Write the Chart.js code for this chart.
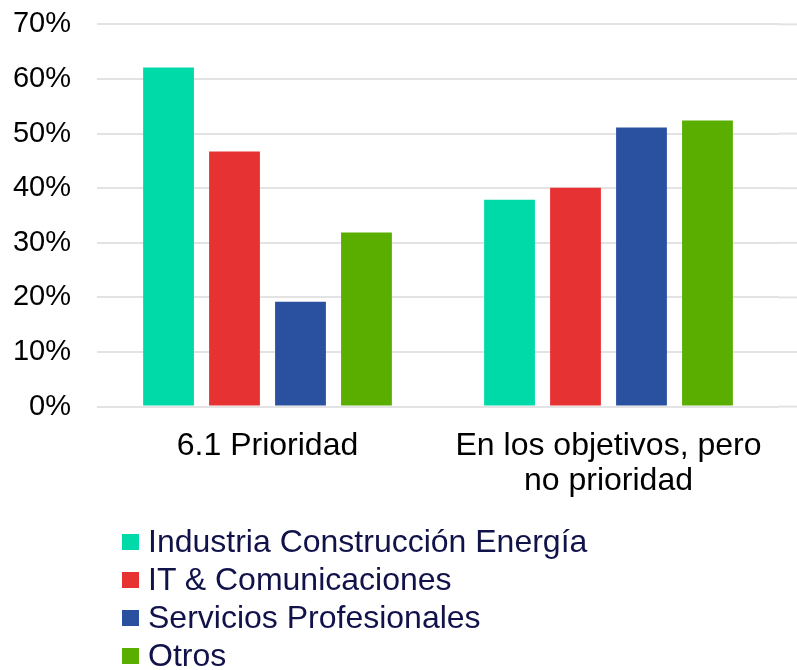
<!DOCTYPE html>
<html>
<head>
<meta charset="utf-8">
<script src="https://cdn.jsdelivr.net/npm/chart.js@4.4.1/dist/chart.umd.min.js"></script>
<style>
  html, body { margin: 0; padding: 0; background: #fff; overflow: hidden; }
  #wrap { position: relative; width: 797px; height: 670px; overflow: hidden; }
  #chart { position: absolute; left: 0; top: -19px; }
  #legend { position: absolute; left: 122px; top: 522px; font-family: "Liberation Sans", Arial, sans-serif; font-size: 32px; color: #12124a; }
  #legend .row { height: 38px; line-height: 38px; white-space: nowrap; }
  #legend .box { display: inline-block; width: 17px; height: 16px; margin-right: 9px; vertical-align: 2px; }
</style>
</head>
<body>
<div id="wrap">
  <canvas id="chart" width="797" height="689"></canvas>
  <div id="legend"></div>
</div>
<script>
  // datos
  const categories = ["6.1 Prioridad", ["En los objetivos, pero", "no prioridad"]];
  const seriesNames = ["Industria Construcción Energía", "IT & Comunicaciones", "Servicios Profesionales", "Otros"];
  const industria = [62.1, 37.9];
  const itComunicaciones = [46.7, 40.1];
  const servicios = [19.2, 51.1];
  const otros = [31.9, 52.4];
  const yTicks = [0, 10, 20, 30, 40, 50, 60, 70];

  const colors = ["#00DAA8", "#E63232", "#2A50A0", "#5AAE00"];
  const values = [industria, itComunicaciones, servicios, otros];
  const gridColor = "#e3e3e3";

  // las lineas de la rejilla llegan hasta el borde derecho
  const gridToEdge = {
    id: "gridToEdge",
    beforeDatasetsDraw(chart) {
      const { ctx, chartArea, scales } = chart;
      ctx.save();
      ctx.strokeStyle = gridColor;
      ctx.lineWidth = 2;
      yTicks.forEach(v => {
        const y = scales.y.getPixelForValue(v);
        ctx.beginPath();
        ctx.moveTo(chartArea.right, y);
        ctx.lineTo(chart.width, y);
        ctx.stroke();
      });
      ctx.restore();
    }
  };

  const chart = new Chart(document.getElementById("chart"), {
    type: "bar",
    data: {
      labels: categories,
      datasets: seriesNames.map((name, i) => ({
        label: name,
        data: values[i],
        backgroundColor: colors[i],
        barPercentage: 0.77,
        categoryPercentage: 0.774
      }))
    },
    options: {
      responsive: false,
      animation: false,
      layout: { padding: { top: 0, right: 18, bottom: 157, left: 0 } },
      plugins: {
        legend: { display: false },
        tooltip: { enabled: false }
      },
      scales: {
        x: {
          grid: { display: false },
          border: { display: false },
          ticks: {
            color: "#000",
            padding: 14,
            maxRotation: 0,
            font: { family: "Liberation Sans", size: 32, lineHeight: 1.1 }
          }
        },
        y: {
          min: 0,
          max: 70,
          afterBuildTicks: s => { s.ticks = yTicks.map(v => ({ value: v })); },
          afterFit: s => { s.width = 97; },
          grid: { color: gridColor, lineWidth: 2, drawTicks: false },
          border: { display: false },
          ticks: {
            color: "#000",
            padding: 26,
            font: { family: "Liberation Sans", size: 29 },
            callback: v => v + "%"
          }
        }
      }
    },
    plugins: [gridToEdge]
  });

  // leyenda en html, una serie por linea
  const legend = document.getElementById("legend");
  seriesNames.forEach((name, i) => {
    const row = document.createElement("div");
    row.className = "row";
    const box = document.createElement("span");
    box.className = "box";
    box.style.background = colors[i];
    row.appendChild(box);
    row.appendChild(document.createTextNode(name));
    legend.appendChild(row);
  });
</script>
</body>
</html>
